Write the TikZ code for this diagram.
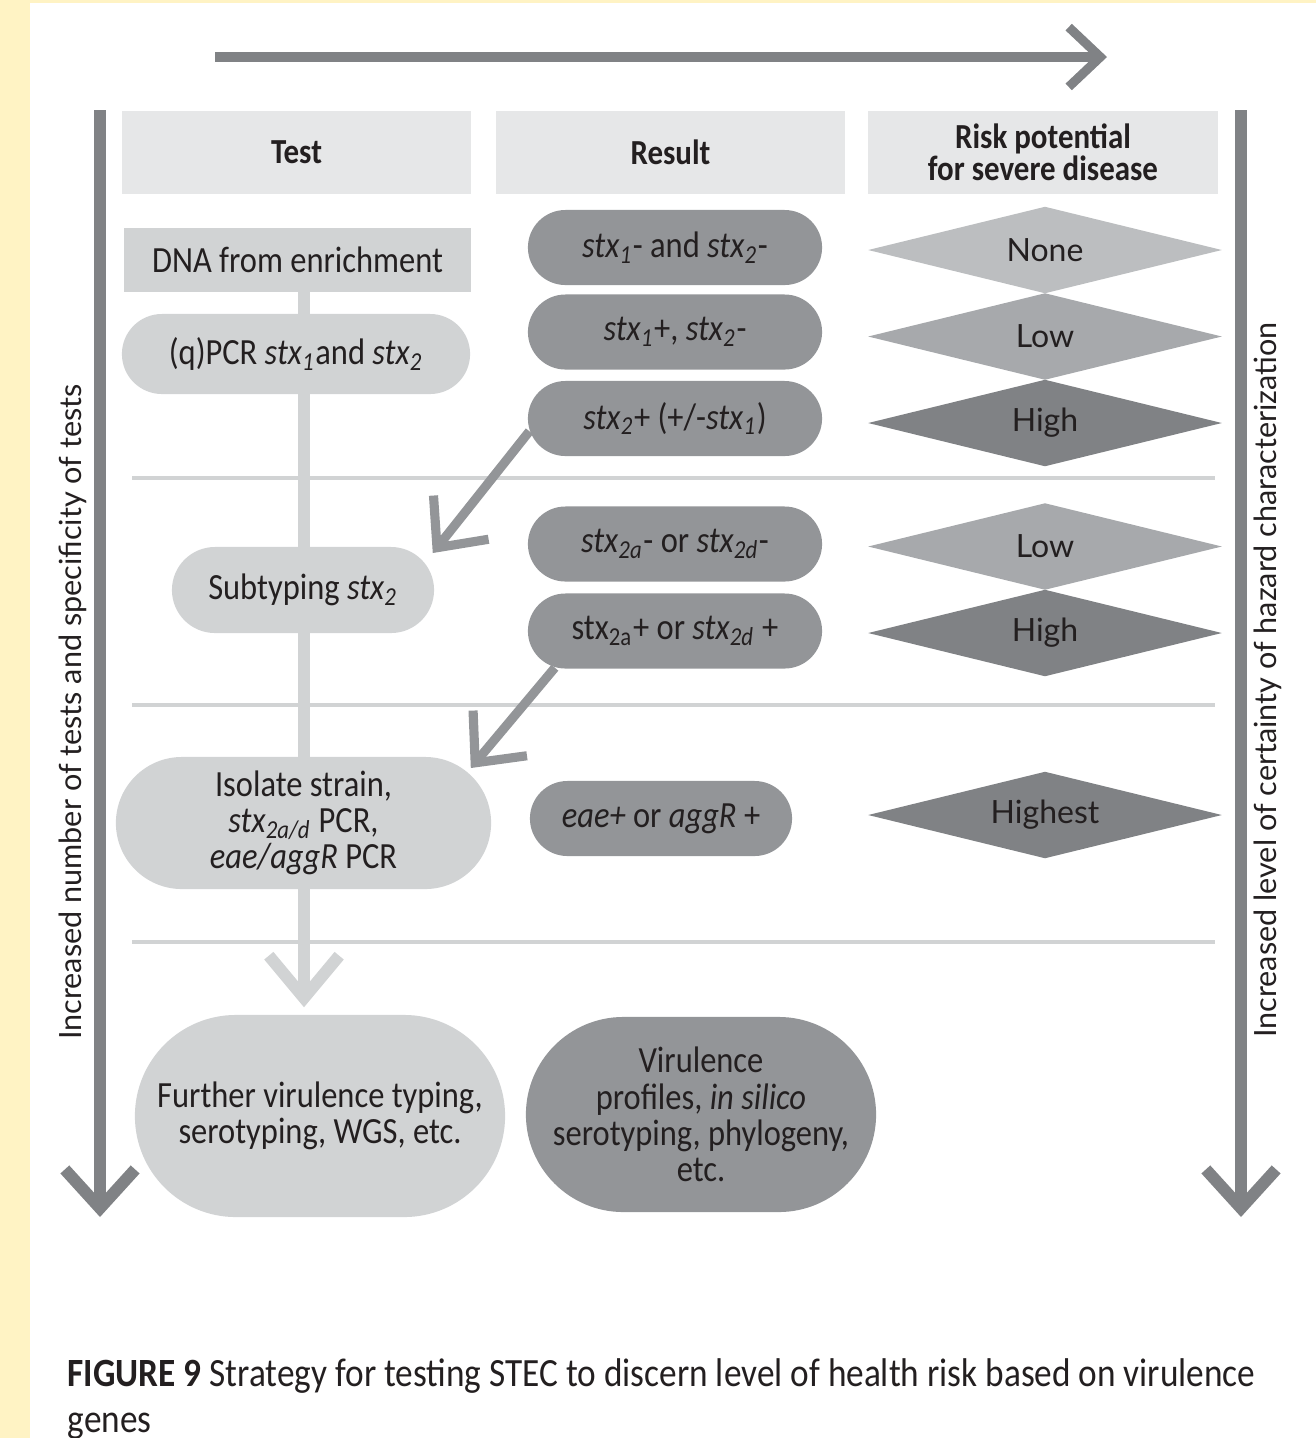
\documentclass[tikz,border=0pt]{standalone}
\usepackage{fontspec}
\setmainfont[FakeStretch=0.88]{Carlito}
\newfontfamily\latofont{Lato}
\usetikzlibrary{arrows.meta,shapes.geometric,shapes.misc,calc,backgrounds}

\definecolor{stripyellow}{HTML}{FFF3C4}
\definecolor{headgray}{HTML}{E6E7E8}
\definecolor{testgray}{HTML}{D1D3D4}
\definecolor{resgray}{HTML}{939598}
\definecolor{axisgray}{HTML}{808285}
\definecolor{risknone}{HTML}{BCBEC0}
\definecolor{risklow}{HTML}{A7A9AC}
\definecolor{riskhigh}{HTML}{808285}
\definecolor{inkgray}{HTML}{231F20}

\tikzset{
  header/.style={fill=headgray, minimum width=3.49cm, minimum height=0.83cm,
    font=\bfseries\fontsize{10}{9}\selectfont, align=center, inner sep=0pt},
  testbox/.style={fill=testgray, rounded rectangle, align=center, inner sep=0pt},
  resbox/.style={fill=resgray, rounded rectangle, minimum width=2.94cm,
    minimum height=0.75cm, align=center, inner sep=0pt},
  risk/.style={diamond, aspect=4, inner sep=0pt, minimum width=3.54cm,
    minimum height=0.87cm, font=\latofont\fontsize{9.1}{11}\selectfont},
  sep/.style={testgray, line width=1.4pt},
  axis/.style={axisgray, line width=3.4pt, -{Straight Barb[length=11pt,width=20pt]}},
  jump/.style={resgray, line width=2.6pt, -{Straight Barb[length=11pt,width=20pt]}},
  sidetext/.style={rotate=90, font=\latofont\fontsize{8.7}{10}\selectfont},
}

\newcommand{\stx}[1]{\textit{stx}\textsubscript{\textit{#1}}}

\begin{document}
\begin{tikzpicture}[x=0.01cm, y=-0.01cm, text=inkgray, font=\fontsize{10.5}{10.3}\selectfont]
  \useasboundingbox (0,0) rectangle (1316,1438);
  \fill[stripyellow] (0,0) rectangle (30,1438);
  \fill[stripyellow] (30,0) rectangle (1316,3);

  % column heads
  \node[header] (hdtest) at (296.5,152.5) {Test};
  \node[header] (hdresult) at (670.5,152.5) {Result};
  \node[header] (hdrisk) at (1043,152.5) {Risk potential\\for severe disease};

  % tests
  \node[fill=testgray, minimum width=3.47cm, minimum height=0.64cm, inner sep=0pt] (dna) at (297.5,260) {DNA from enrichment};
  \node[testbox, minimum width=3.48cm, minimum height=0.80cm] (pcr) at (296,354) {(q)PCR \stx{1}and \stx{2}};
  \node[testbox, minimum width=2.62cm, minimum height=0.86cm] (subtyp) at (303,590) {Subtyping \stx{2}};
  \node[testbox, minimum width=3.75cm, minimum height=1.32cm] (isolate) at (303.5,823) {Isolate strain,\\\stx{2a/d} PCR,\\\textit{eae/aggR} PCR};
  \node[testbox, minimum width=3.70cm, minimum height=2.02cm] (further) at (320,1116) {Further virulence typing,\\serotyping, WGS, etc.};
  \coordinate (spine) at (304,292);

  % results
  \node[resbox] (rneg) at (675,247.5) {\stx{1}- and \stx{2}-};
  \node[resbox] (rone) at (675,332) {\stx{1}+, \stx{2}-};
  \node[resbox] (rtwo) at (675,418.5) {\stx{2}+ (+/-\stx{1})};
  \node[resbox] (rsubneg) at (675,544) {\stx{2a}- or \stx{2d}-};
  \node[resbox] (rsubpos) at (675,631) {stx\textsubscript{2a}+ or \stx{2d} +};
  \node[resbox, minimum width=2.62cm] (reae) at (661,818.5) {\textit{eae+} or \textit{aggR} +};
  \node[resbox, minimum width=3.50cm, minimum height=1.95cm] (rprof) at (701,1114.5) {Virulence\\profiles, \textit{in silico}\\serotyping, phylogeny,\\etc.};

  % risk
  \node[risk, fill=risknone] (dnone) at (1045,250) {None};
  \node[risk, fill=risklow] (dlow) at (1045,336.5) {Low};
  \node[risk, fill=riskhigh] (dhigh) at (1045,423) {High};
  \node[risk, fill=risklow] (dlowb) at (1045,546.5) {Low};
  \node[risk, fill=riskhigh] (dhighb) at (1045,633) {High};
  \node[risk, fill=riskhigh] (dhighest) at (1045,815) {Highest};

  % separators
  \draw[sep] (132,478) -- (1215,478);
  \draw[sep] (132,705) -- (1215,705);
  \draw[sep] (132,942) -- (1215,942);

  % axes
  \draw[axis, line width=2.6pt, -{Straight Barb[length=9pt,width=17pt]}] (215,57) -- (1107,57);
  \draw[axis] (100,110) -- (100,1217);
  \draw[axis] (1241,110) -- (1241,1217);
  \node[sidetext] (ltext) at (73,712) {Increased number of tests and specificity of tests};
  \node[sidetext] (rtext) at (1268,680) {Increased level of certainty of hazard characterization};

  % flow
  \begin{scope}[on background layer]
    \draw[testgray, line width=3.4pt, -{Straight Barb[length=12pt,width=20pt]}] (spine) -- ($(spine |- further.north)+(0,-7)$);
  \end{scope}
  \draw[jump] (rtwo.185) -- ($(subtyp.east)+(-2,-37)$);
  \draw[jump] (rsubpos.197) -- ($(isolate.east)+(-21,-55)$);

  \node[anchor=north west, inner sep=0pt, align=left, font=\fontsize{11.4}{13}\selectfont] (caption) at (67,1358)
    {\textbf{FIGURE 9} Strategy for testing STEC to discern level of health risk based on virulence\\genes};
\end{tikzpicture}
\end{document}
